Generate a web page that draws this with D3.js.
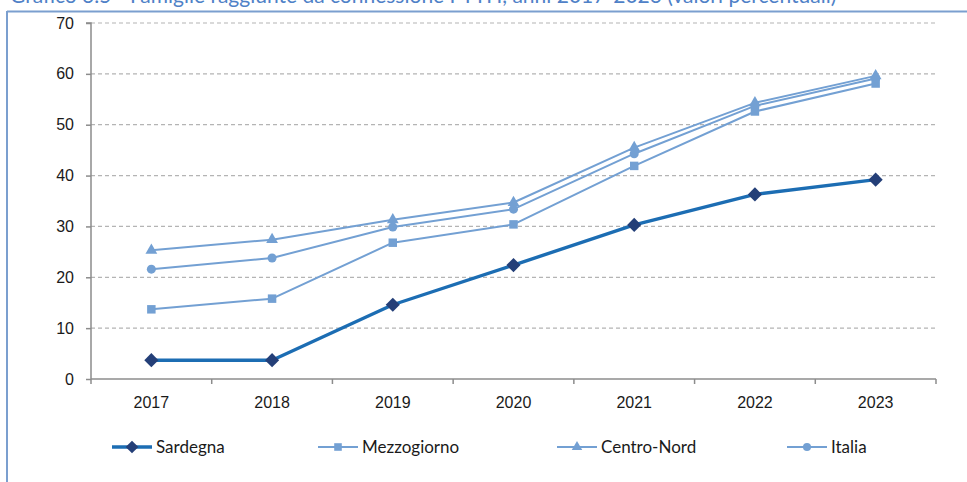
<!DOCTYPE html>
<html>
<head>
<meta charset="utf-8">
<script src="https://cdn.jsdelivr.net/npm/d3@7"></script>
<style>
  body { margin: 0; background: #fff; }
  svg { display: block; font-family: Lato, "Open Sans", sans-serif; }
</style>
</head>
<body>
<svg id="chart" width="967" height="482"></svg>
<script>
let years = ["2017", "2018", "2019", "2020", "2021", "2022", "2023"];
let sardegna = [3.7, 3.7, 14.6, 22.4, 30.3, 36.3, 39.2];
let mezzogiorno = [13.7, 15.8, 26.8, 30.4, 41.9, 52.6, 58.1];
let centroNord = [25.3, 27.4, 31.3, 34.7, 45.5, 54.3, 59.6];
let italia = [21.6, 23.8, 29.9, 33.4, 44.3, 53.7, 59.1];
let yTicks = [0, 10, 20, 30, 40, 50, 60, 70];

let series = [
    {name: "Sardegna", values: sardegna, symbol: d3.symbolSquare, rotate: 45, line: "#1c6db3", marker: "#243f78", width: 3.4, size: 100},
    {name: "Mezzogiorno", values: mezzogiorno, symbol: d3.symbolSquare, rotate: 0, line: "#73a0d3", marker: "#73a0d3", width: 2, size: 72},
    {name: "Centro-Nord", values: centroNord, symbol: d3.symbolTriangle, rotate: 0, line: "#73a0d3", marker: "#73a0d3", width: 2, size: 60},
    {name: "Italia", values: italia, symbol: d3.symbolCircle, rotate: 0, line: "#73a0d3", marker: "#73a0d3", width: 2, size: 64}
];

let svg = d3.select("#chart");
let margin = {left: 91, right: 31, top: 23, bottom: 103};
let width = 967 - margin.left - margin.right;
let height = 482 - margin.top - margin.bottom;

// frame + title that is cut by the page edge (as in the source)
svg.append("text")
    .attr("x", 10).attr("y", 3)
    .attr("fill", "#4f81c7")
    .attr("font-size", 21)
    .text("Grafico 3.5 - Famiglie raggiunte da connessione FTTH, anni 2017-2023 (valori percentuali)");
svg.append("line").attr("x1", 7).attr("x2", 967).attr("y1", 11.5).attr("y2", 11.5)
    .attr("stroke", "#7b9fcf").attr("stroke-width", 2);
svg.append("line").attr("x1", 7).attr("x2", 7).attr("y1", 11).attr("y2", 482)
    .attr("stroke", "#7b9fcf").attr("stroke-width", 2);

let x = d3.scaleBand().domain(years).range([0, width]);
let y = d3.scaleLinear().domain([0, 70]).range([height, 0]);

let g = svg.append("g").attr("transform", `translate(${margin.left},${margin.top})`);

// gridlines
g.append("g").selectAll("line").data(yTicks.filter(d => d > 0)).enter().append("line")
    .attr("x1", 0).attr("x2", width)
    .attr("y1", d => y(d)).attr("y2", d => y(d))
    .attr("stroke", "#b4b4b4").attr("stroke-dasharray", "4,3").attr("stroke-width", 1.2);

// y axis
let yAxis = g.append("g").call(d3.axisLeft(y).tickValues(yTicks).tickSize(5).tickPadding(12));
// x axis
let xAxis = g.append("g").attr("transform", `translate(0,${height})`)
    .call(d3.axisBottom(x).tickSize(0).tickPadding(18));
[yAxis, xAxis].forEach(a => {
    a.select(".domain").attr("stroke", "#8c8c8c").attr("stroke-width", 1.5);
    a.selectAll("text").attr("font-size", 16).attr("fill", "#1a1a1a");
    a.selectAll(".tick line").attr("stroke", "#8c8c8c").attr("stroke-width", 1.5);
});
xAxis.select(".domain").remove();
xAxis.append("line").attr("x1", 0).attr("x2", width).attr("stroke", "#8c8c8c").attr("stroke-width", 1.5);
xAxis.selectAll(".bound").data(d3.range(years.length + 1)).enter().append("line")
    .attr("x1", i => i * x.step()).attr("x2", i => i * x.step())
    .attr("y1", 0).attr("y2", 5)
    .attr("stroke", "#8c8c8c").attr("stroke-width", 1.5);
yAxis.select(".domain").attr("d", `M-5,0H0V${height}`);

let cx = (d, i) => x(years[i]) + x.bandwidth() / 2;
let line = d3.line().x(cx).y(d => y(d));

// draw back to front so Sardegna sits on top
series.slice().reverse().forEach(s => {
    g.append("path").datum(s.values)
        .attr("d", line).attr("fill", "none")
        .attr("stroke", s.line).attr("stroke-width", s.width)
        .attr("stroke-linejoin", "round");
    g.append("g").selectAll("path").data(s.values).enter().append("path")
        .attr("transform", (d, i) => `translate(${cx(d, i)},${y(d)}) rotate(${s.rotate})`)
        .attr("d", d3.symbol().type(s.symbol).size(s.size))
        .attr("fill", s.marker);
});

// legend
let legendX = [112, 318, 557, 787];
let legend = svg.append("g").attr("transform", "translate(0,447)");
series.forEach((s, i) => {
    let lg = legend.append("g").attr("transform", `translate(${legendX[i]},0)`);
    lg.append("line").attr("x1", 0).attr("x2", 40)
        .attr("stroke", s.line).attr("stroke-width", s.width);
    lg.append("path").attr("transform", `translate(20,0) rotate(${s.rotate})`)
        .attr("d", d3.symbol().type(s.symbol).size(s.size * 0.8))
        .attr("fill", s.marker);
    lg.append("text").attr("x", 44).attr("y", 6)
        .attr("font-size", 17).attr("fill", "#1a1a1a").text(s.name);
});
</script>
</body>
</html>
